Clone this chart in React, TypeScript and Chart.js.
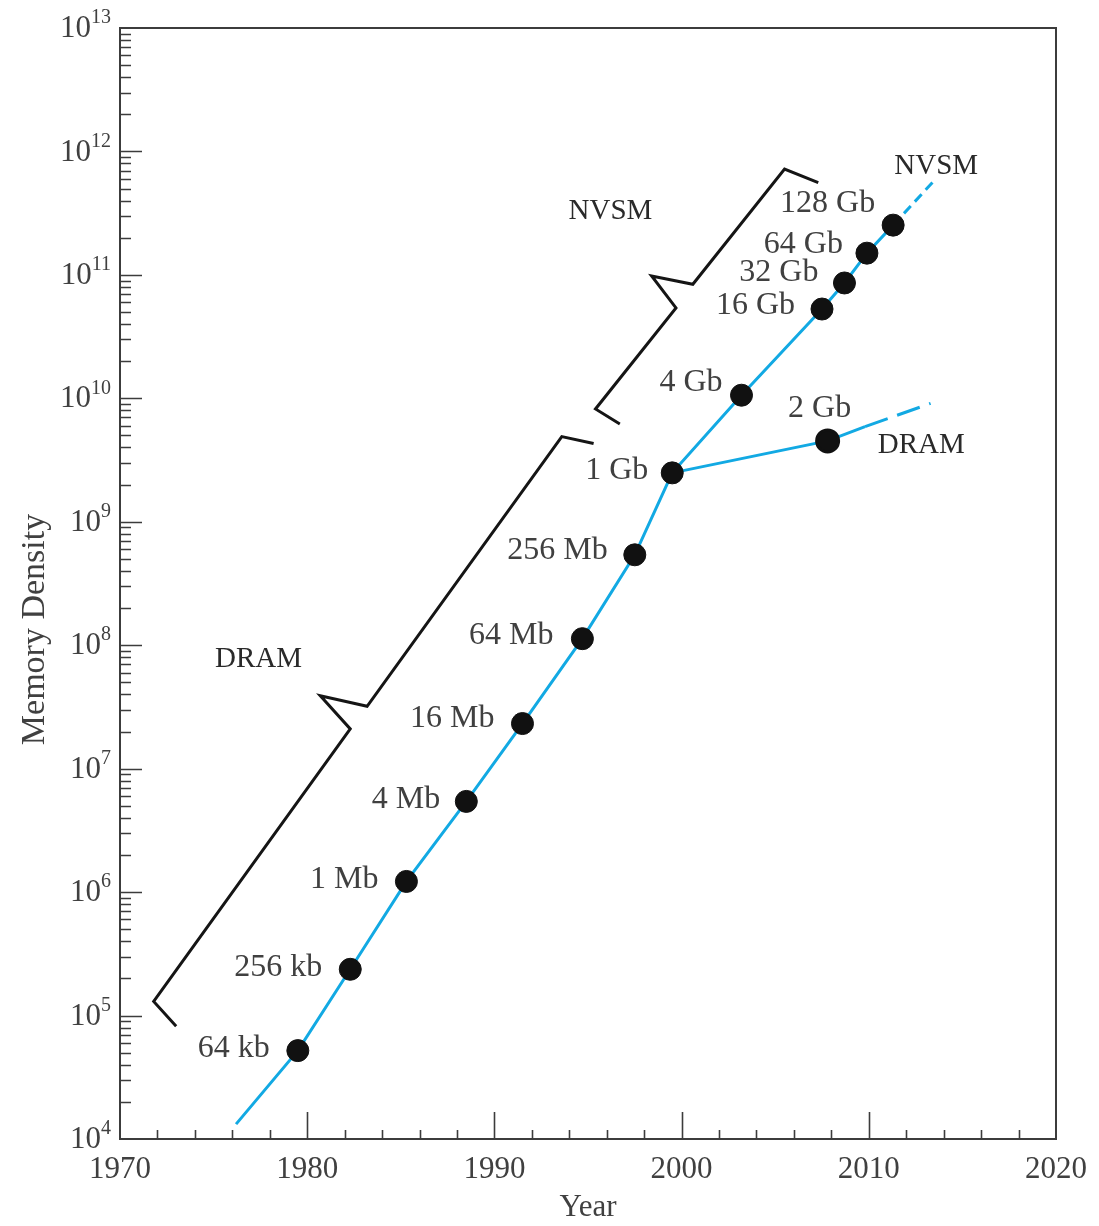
import { useEffect, useRef } from "react";
import { Chart, registerables } from "chart.js";

Chart.register(...registerables);

// ---------- data ----------
const sizeLabels = ["64 kb", "256 kb", "1 Mb", "4 Mb", "16 Mb", "64 Mb", "256 Mb", "1 Gb", "4 Gb", "16 Gb", "32 Gb", "64 Gb", "128 Gb"];
const sizeYears = [1979.5, 1982.3, 1985.3, 1988.5, 1991.5, 1994.7, 1997.5, 1999.5, 2003.2, 2007.5, 2008.7, 2009.9, 2011.3];
const sizeDensity = [5.2e4, 2.37e5, 1.22e6, 5.43e6, 2.32e7, 1.13e8, 5.4e8, 2.49e9, 1.06e10, 5.29e10, 8.6e10, 1.5e11, 2.53e11];

const trendStartYear = 1976.2;
const trendStartDensity = 1.32e4;

const nvsmExtYears = [2011.3, 2013.4];
const nvsmExtDensity = [2.53e11, 5.6e11];

const dramLabels = ["", "2 Gb", ""];
const dramYears = [1999.5, 2007.8, 2009.8];
const dramDensity = [2.49e9, 4.52e9, 5.9e9];
const dramExtYears = [2009.8, 2013.3];
const dramExtDensity = [5.9e9, 9.1e9];

const dramBraceYears = [1973.0, 1971.8, 1982.3, 1980.7, 1983.2, 1993.6, 1995.3];
const dramBraceDensity = [8.2e4, 1.3e5, 2.1e7, 3.9e7, 3.2e7, 4.9e9, 4.3e9];
const nvsmBraceYears = [1996.7, 1995.4, 1999.7, 1998.4, 2000.6, 2005.5, 2007.3];
const nvsmBraceDensity = [6.2e9, 8.2e9, 5.4e10, 9.8e10, 8.4e10, 7.2e11, 5.6e11];

const regionTexts = ["DRAM", "NVSM", "NVSM", "DRAM"];
const regionYears = [1977.4, 1996.2, 2013.6, 2012.8];
const regionDensity = [7.66e7, 3.27e11, 7.57e11, 4.15e9];

const xTickYears = [1970, 1980, 1990, 2000, 2010, 2020];
const yDecades = [1e4, 1e5, 1e6, 1e7, 1e8, 1e9, 1e10, 1e11, 1e12, 1e13];

const xTitle = "Year";
const yTitle = "Memory Density";

// ---------- styles ----------
const FONT = "'Liberation Serif', 'DejaVu Serif', serif";
const CYAN = "#12a9e3";
const AXIS = "#3c3c3c";
const TEXT = "#404040";
// label offsets (px) relative to each point: [dx of right edge, dy]
const sizeLabelOffsets: [number, number][] = [
  [-28, -2], [-28, -2], [-28, -2], [-26, -2], [-28, -5], [-29, -3], [-27, -4], [-24, -2],
  [-19, -13], [-27, -3], [-26, -10], [-24, -9], [-18, -22],
];

const decorPlugin = {
  id: "decor",
  beforeDatasetsDraw(chart: any) {
    const { ctx, chartArea: a, scales } = chart;
    const x = scales.x;
    const y = scales.y;
    ctx.save();
    ctx.strokeStyle = AXIS;
    ctx.lineWidth = 2;
    ctx.strokeRect(a.left, a.top, a.right - a.left, a.bottom - a.top);
    ctx.lineWidth = 1.6;
    ctx.beginPath();
    for (let yr = 1972; yr < 2020; yr += 2) {
      const px = Math.round(x.getPixelForValue(yr)) + 0.5;
      const major = yr % 10 === 0;
      ctx.moveTo(px, a.bottom);
      ctx.lineTo(px, a.bottom - (major ? 27 : 9));
    }
    for (let e = 4; e < 13; e++) {
      for (let m = 1; m <= 9; m++) {
        if (e === 4 && m === 1) continue;
        const v = m * Math.pow(10, e);
        const py = Math.round(y.getPixelForValue(v)) + 0.5;
        ctx.moveTo(a.left, py);
        ctx.lineTo(a.left + (m === 1 ? 22 : 11), py);
      }
    }
    ctx.stroke();
    ctx.restore();
  },
  afterDraw(chart: any) {
    const { ctx, scales, chartArea: a } = chart;
    const x = scales.x;
    const y = scales.y;
    ctx.save();
    // y tick labels 10^n
    y.ticks.forEach((t: any) => {
      const py = y.getPixelForValue(t.value);
      const exp = String(Math.round(Math.log10(t.value)));
      ctx.fillStyle = TEXT;
      ctx.font = `20px ${FONT}`;
      const ew = ctx.measureText(exp).width;
      const right = 111;
      ctx.textAlign = "left";
      ctx.textBaseline = "middle";
      ctx.fillText(exp, right - ew, py - 10);
      ctx.font = `31px ${FONT}`;
      ctx.textAlign = "right";
      ctx.fillText("10", right - ew, py + 1);
    });
    // y axis title
    ctx.save();
    ctx.translate(35, (a.top + a.bottom) / 2 + 46);
    ctx.rotate(-Math.PI / 2);
    ctx.font = `34px ${FONT}`;
    ctx.fillStyle = TEXT;
    ctx.textAlign = "center";
    ctx.textBaseline = "middle";
    ctx.fillText(yTitle, 0, 0);
    ctx.restore();
    // point labels
    ctx.font = `32px ${FONT}`;
    ctx.fillStyle = TEXT;
    ctx.textBaseline = "middle";
    ctx.textAlign = "right";
    sizeLabels.forEach((lab, i) => {
      const px = x.getPixelForValue(sizeYears[i]);
      const py = y.getPixelForValue(sizeDensity[i]);
      const [dx, dy] = sizeLabelOffsets[i];
      ctx.fillText(lab, px + dx, py + dy);
    });
    ctx.textAlign = "center";
    dramLabels.forEach((lab, i) => {
      if (!lab) return;
      const px = x.getPixelForValue(dramYears[i]);
      const py = y.getPixelForValue(dramDensity[i]);
      ctx.fillText(lab, px - 8, py - 32);
    });
    // region labels
    ctx.font = `29px ${FONT}`;
    ctx.fillStyle = "#2a2a2a";
    regionTexts.forEach((txt, i) => {
      ctx.fillText(txt, x.getPixelForValue(regionYears[i]), y.getPixelForValue(regionDensity[i]));
    });
    ctx.restore();
  },
};

const pts = (xs: number[], ys: number[]) => xs.map((v, i) => ({ x: v, y: ys[i] }));

export default function App() {
  const ref = useRef<HTMLCanvasElement | null>(null);
  useEffect(() => {
    if (!ref.current) return;
    const trendData = [{ x: trendStartYear, y: trendStartDensity }, ...pts(sizeYears, sizeDensity)];
    const chart = new Chart(ref.current, {
      type: "line",
      data: {
        datasets: [
          {
            label: "Memory density",
            data: trendData,
            borderColor: CYAN,
            borderWidth: 3,
            pointRadius: trendData.map((_, i) => (i === 0 ? 0 : 11)),
            pointBackgroundColor: "#111",
            pointBorderColor: "#111",
            pointBorderWidth: 1,
            tension: 0,
          },
          {
            label: "DRAM branch",
            data: pts(dramYears, dramDensity),
            borderColor: CYAN,
            borderWidth: 3,
            pointRadius: dramLabels.map((l) => (l ? 11 : 0)),
            pointBackgroundColor: "#111",
            pointBorderColor: "#111",
            tension: 0,
          },
          {
            label: "DRAM projection",
            data: pts(dramExtYears, dramExtDensity),
            borderColor: CYAN,
            borderWidth: 3,
            borderDash: [24, 10],
            pointRadius: 0,
          },
          {
            label: "NVSM projection",
            data: pts(nvsmExtYears, nvsmExtDensity),
            borderColor: CYAN,
            borderWidth: 3,
            borderDash: [10, 6],
            pointRadius: 0,
          },
          {
            label: "DRAM bracket",
            data: pts(dramBraceYears, dramBraceDensity),
            borderColor: "#151515",
            borderWidth: 3,
            pointRadius: 0,
            borderJoinStyle: "miter",
          },
          {
            label: "NVSM bracket",
            data: pts(nvsmBraceYears, nvsmBraceDensity),
            borderColor: "#151515",
            borderWidth: 3,
            pointRadius: 0,
            borderJoinStyle: "miter",
          },
        ],
      },
      options: {
        animation: false,
        responsive: false,
        devicePixelRatio: 1,
        parsing: false as any,
        layout: { padding: { top: 28, right: 43, left: 0, bottom: 0 } },
        plugins: { legend: { display: false }, tooltip: { enabled: false } },
        scales: {
          x: {
            type: "linear",
            min: 1970,
            max: 2020,
            grid: { display: false, drawTicks: false },
            border: { display: false },
            afterBuildTicks: (s: any) => {
              s.ticks = xTickYears.map((v) => ({ value: v }));
            },
            ticks: {
              padding: 12,
              color: TEXT,
              font: { family: FONT, size: 31 },
              maxRotation: 0,
              autoSkip: false,
              callback: (v: any) => String(v),
            },
            title: {
              display: true,
              text: xTitle,
              color: TEXT,
              font: { family: FONT, size: 31 },
              padding: { top: 0, bottom: 0 },
            },
            afterFit: (s: any) => {
              s.height = 87;
            },
          },
          y: {
            type: "logarithmic",
            min: 1e4,
            max: 1e13,
            grid: { display: false, drawTicks: false },
            border: { display: false },
            afterBuildTicks: (s: any) => {
              s.ticks = yDecades.map((v) => ({ value: v, major: true }));
            },
            ticks: { display: false },
            title: { display: false, text: yTitle },
            afterFit: (s: any) => {
              s.width = 120;
            },
          },
        },
      },
      plugins: [decorPlugin],
    });
    return () => chart.destroy();
  }, []);
  return (
    <div style={{ position: "absolute", left: 0, top: 0, width: 1099, height: 1226, background: "#fff" }}>
      <canvas ref={ref} width={1099} height={1226} />
    </div>
  );
}
